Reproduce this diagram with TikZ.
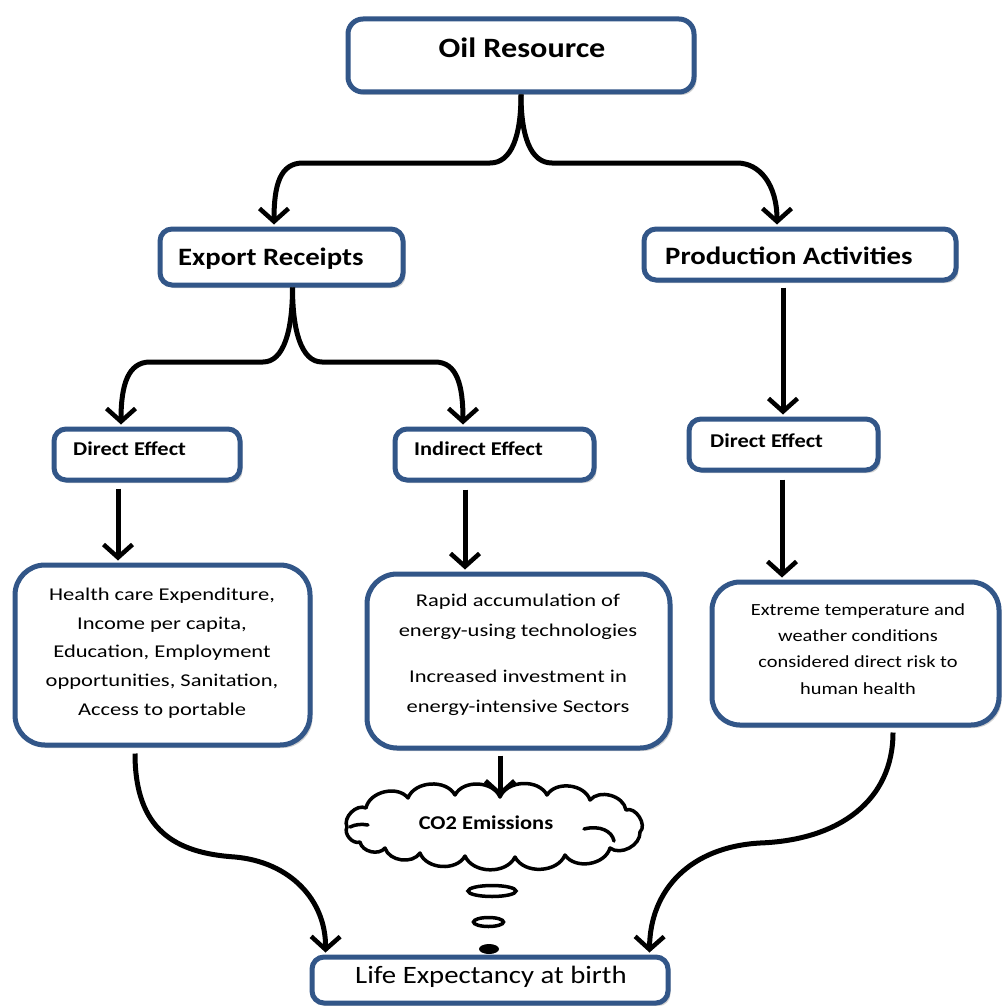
\documentclass[tikz,border=0pt]{standalone}
\usepackage{fontspec}
\setmainfont{Carlito}[FakeStretch=1.15]
\newfontfamily\bodyfont{Carlito}[FakeStretch=1.25]
\newfontfamily\rbodyfont{Carlito}[FakeStretch=1.2]
\usetikzlibrary{arrows.meta,shadows,calc}
\definecolor{boxblue}{RGB}{50,86,136}
\tikzset{
  boxbase/.style={draw=boxblue, line width=5pt, fill=white, inner sep=0pt,
    drop shadow={shadow xshift=2.5pt, shadow yshift=-3pt, fill=black!40, opacity=.45}},
  smallbox/.style={boxbase, rounded corners=12pt},
  bigbox/.style={boxbase, rounded corners=30pt},
  arr/.style={line width=5pt, line join=round,
    -{Straight Barb[length=13pt,width=29pt,line width=4.5pt]}},
  head/.style={font=\bfseries\fontsize{25}{30}\selectfont, inner sep=0pt},
  small/.style={font=\bfseries\fontsize{19.5}{24}\selectfont, inner sep=0pt},
  puff/.style={bend left=65},
}
\begin{document}
\begin{tikzpicture}[x=1pt,y=-1pt]
\useasboundingbox[fill=white] (0,0) rectangle (1003,1006);

% boxes
\node[smallbox, rounded corners=15pt, minimum width=346pt, minimum height=73pt] (oil) at (521,55.5) {};
\node[smallbox, minimum width=243pt, minimum height=56pt] (exp) at (281.5,257) {};
\node[smallbox, minimum width=312pt, minimum height=51pt] (prod) at (800,254.5) {};
\node[smallbox, minimum width=186pt, minimum height=51pt] (de1) at (147,454.5) {};
\node[smallbox, minimum width=199pt, minimum height=51pt] (ie) at (494.5,454.5) {};
\node[smallbox, minimum width=189pt, minimum height=51pt] (de2) at (783.5,444.5) {};
\node[bigbox, minimum width=295pt, minimum height=180pt] (b1) at (162.5,655) {};
\node[bigbox, minimum width=303pt, minimum height=174pt] (b2) at (518.5,661) {};
\node[bigbox, rounded corners=28pt, minimum width=287pt, minimum height=143pt] (b3) at (855.5,653.5) {};
\node[smallbox, minimum width=356pt, minimum height=46pt] (life) at (490,980) {};

% cloud (drawn by hand, with a frame node for connecting)
\node[minimum width=296pt, minimum height=64pt, inner sep=0pt] (cloud) at (495,829) {};
\draw[line width=3.5pt, line join=round, fill=white]
  (360,842) to[bend left=70] (347,827) to[bend left=70] (366,808)
  to[puff] (408,798) to[puff] (455,795) to[puff] (500,797) to[puff] (547,795)
  to[puff] (590,800) to[puff] (626,810) to[bend left=80] (640,832)
  to[puff] (610,848) to[puff] (565,855) to[puff] (515,857) to[puff] (465,856)
  to[puff] (420,853) to[puff] (385,848) to[puff] cycle;
\draw[line width=3.5pt, line cap=round] (350,827) .. controls (356,824) and (362,824) .. (368,825);
\draw[line width=3.5pt, line cap=round] (584,829) .. controls (600,825) and (612,831) .. (614,841);

% texts
\node[font=\bfseries\fontsize{28}{32}\selectfont, inner sep=0pt, anchor=base] (oilt) at (522,58) {Oil Resource};
\node[head, anchor=base west] (expt) at (178,265) {Export Receipts};
\node[head, anchor=base west] (prodt) at (665,264) {Production Activities};
\node[small, anchor=base west] (de1t) at (73,455) {Direct Effect};
\node[small, anchor=base west] (iet) at (414,455) {Indirect Effect};
\node[small, anchor=base west] (de2t) at (710,447) {Direct Effect};
\node[small, anchor=base] (cloudt) at (486,829) {CO2 Emissions};
\node[font=\fontsize{25}{30}\selectfont, inner sep=0pt, anchor=base] (lifet) at (491,983) {Life Expectancy at birth};
\node[font=\bodyfont\fontsize{18}{28.75}\selectfont, align=center, inner sep=0pt] (b1t) at (162,653)
  {Health care Expenditure,\\Income per capita,\\Education, Employment\\opportunities, Sanitation,\\Access to portable};
\node[font=\bodyfont\fontsize{18}{29.5}\selectfont, align=center, inner sep=0pt] (b2t) at (518,655)
  {Rapid accumulation of\\energy-using technologies\\[17pt]Increased investment in\\energy-intensive Sectors};
\node[font=\rbodyfont\fontsize{17}{26.3}\selectfont, align=center, inner sep=0pt] (b3t) at (858,649)
  {Extreme temperature and\\weather conditions\\considered direct risk to\\human health};

% top fork
\draw[arr] (oil.south) .. controls (521,135) and (512,163) .. (490,163) -- (303,163)
  .. controls (280,163) and (274,185) .. ($(exp.north)+(-7.5,-2)$);
\draw[arr] (oil.south) .. controls (521,135) and (530,163) .. (552,163) -- (737,163)
  .. controls (760,163) and (777,185) .. ($(prod.north)+(-23,-2)$);

% export fork
\draw[arr] ($(exp.south)+(11,0)$) .. controls (292.5,330) and (284,362) .. (263,362) -- (150,362)
  .. controls (128,362) and (121,385) .. ($(de1.north)+(-26,-2)$);
\draw[arr] ($(exp.south)+(11,0)$) .. controls (292.5,330) and (301,362) .. (322,362) -- (435,362)
  .. controls (457,362) and (463,385) .. ($(ie.north)+(-31.5,-2)$);

% vertical arrows
\draw[arr] ($(de1.south)+(-29,6)$) -- ($(b1.north)+(-44.5,-2)$);
\draw[arr] ($(ie.south)+(-29.5,7)$) -- ($(b2.north)+(-53.5,-2)$);
\draw[arr] ($(prod.south)+(-17,5)$) -- ($(de2.north)+(-0.5,-2)$);
\draw[arr] ($(de2.south)+(-1.5,7)$) -- ($(b3.north)+(-73.5,-2)$);
\draw[arr] ($(b2.south)+(-18.5,5)$) -- ($(cloud.north)+(5,0)$);

% curved arrows to life expectancy
\draw[arr] ($(b1.south)+(-27.5,6)$) .. controls (135,830) and (175,853) .. (235,857)
  .. controls (290,862) and (326,900) .. ($(life.north west)+(16,-2)$);
\draw[arr] ($(b3.south)+(37.5,5)$) .. controls (893,800) and (840,840) .. (760,843)
  .. controls (690,847) and (650,890) .. ($(life.north east)+(-21,-2)$);

% thought bubbles
\draw[line width=3.5pt] (492,891) ellipse [x radius=24, y radius=5.5];
\draw[line width=3.5pt] (488.5,922) ellipse [x radius=15, y radius=4.5];
\fill (489,949) ellipse [x radius=10, y radius=5];
\end{tikzpicture}
\end{document}
